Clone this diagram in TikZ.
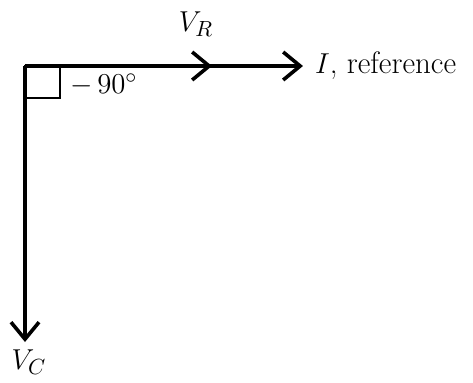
\documentclass[tikz,border=0pt]{standalone}
\usetikzlibrary{arrows.meta}
\tikzset{
  phasor/.style={line width=1.8pt, -{Straight Barb[length=8.5pt,width=14pt,line width=1.8pt]}},
  anglebox/.style={line width=0.8pt}
}
\begin{document}
\begin{tikzpicture}[x=0.5pt, y=0.5pt, font=\fontsize{15.5}{18}\selectfont]
\useasboundingbox (-25,-316) rectangle (448,66);
\coordinate (O) at (0,0);
\coordinate (Rtip) at (187,0);
\coordinate (Itip) at (278,0);
\coordinate (Ctip) at (0,-276);
% right angle mark
\draw[anglebox] (O) rectangle (35,-32);
\node[anchor=west] (ang) at (38,-19) {$-\,90^{\circ}$};
% phasors
\draw[phasor] (O) -- (Itip);
\draw[phasor] (O) -- (Rtip);
\draw[phasor] (O) -- (Ctip);
\node (VR) at (171,42) {$V_R$};
\node[anchor=west] (Ilab) at (283,0) {$I$, reference};
\node (VC) at (4,-296) {$V_C$};
\end{tikzpicture}
\end{document}
